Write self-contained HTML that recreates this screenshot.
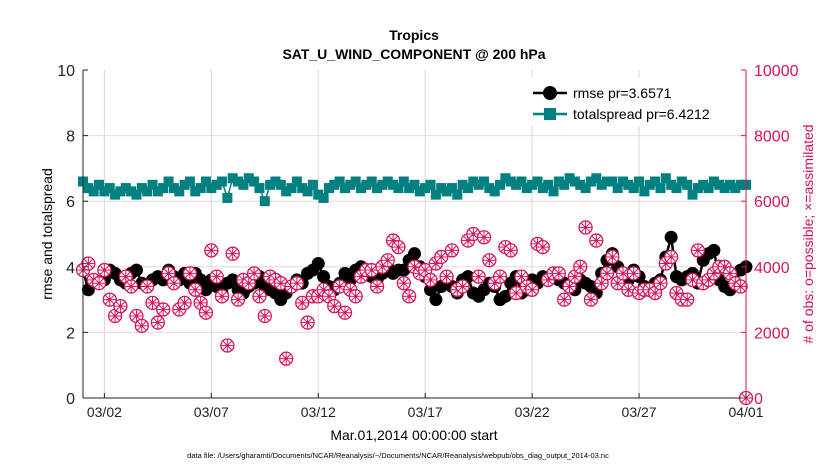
<!DOCTYPE html>
<html><head><meta charset="utf-8"><style>
body{margin:0;background:#fff;}
svg{display:block;font-family:"Liberation Sans",sans-serif;}
</style></head><body>
<svg id="chart" width="830" height="470" viewBox="0 0 830 470">
<rect width="830" height="470" fill="#fff"/>
<g id="grid"></g>
<g id="series"></g>
<g id="axes"></g>
<text x="414" y="40" text-anchor="middle" font-size="14" font-weight="bold">Tropics</text>
<text x="414" y="59" text-anchor="middle" font-size="14" font-weight="bold">SAT_U_WIND_COMPONENT @ 200 hPa</text>
<text x="414" y="440" text-anchor="middle" font-size="14">Mar.01,2014 00:00:00 start</text>
<text transform="translate(52,234) rotate(-90)" text-anchor="middle" font-size="14">rmse and totalspread</text>
<text transform="translate(813,234) rotate(-90)" text-anchor="middle" font-size="14" fill="#d0105a"># of obs: o=possible; ×=assimilated</text>
<text x="398" y="458" text-anchor="middle" font-size="7.5">data file: /Users/gharamti/Documents/NCAR/Reanalysis/~/Documents/NCAR/Reanalysis/webpub/obs_diag_output_2014-03.nc</text>
<g>
<rect x="527" y="78" width="214" height="48" fill="#fff" stroke="none"/>
<g>
<line x1="533" y1="93" x2="567" y2="93" stroke="#000" stroke-width="2.5"/>
<circle cx="550" cy="93" r="7" fill="#000"/>
<text x="573" y="98" font-size="14">rmse pr=3.6571</text></g>
<g>
<line x1="533" y1="114" x2="567" y2="114" stroke="#008080" stroke-width="2.5"/>
<rect x="544" y="108" width="12" height="12" fill="#008080"/>
<text x="573" y="119" font-size="14">totalspread pr=6.4212</text></g>
</g>
</svg>
<script>
const rmse=[3.9,3.3,3.6,3.5, 3.6,3.9,3.8,3.6, 3.5,3.8,3.9,3.5, 3.4,3.6,3.7,3.6, 3.9,3.7,3.6,3.8, 3.5,3.8,3.6,3.3,
3.6,3.4,3.2,3.5, 3.6,3.3,3.2,3.4, 3.5,3.7,3.4,3.3, 3.2,3.0,3.2,3.4, 3.6,3.5,3.8,3.9, 4.1,3.7,3.4,3.3,
3.5,3.8,3.6,3.9, 4.0,3.9,3.7,3.6, 3.8,4.0,3.8,3.9, 3.9,4.2,4.4,4.0, 3.7,3.3,3.0,3.4, 3.6,3.4,3.2,3.6,
3.7,3.2,3.1,3.3, 3.5,3.4,3.0,3.1, 3.5,3.7,3.2,3.3, 3.6,3.5,3.7,3.6, 3.8,3.6,3.5,3.4, 3.3,3.6,3.5,3.4,
3.2,3.8,4.2,4.4, 4.0,3.8,3.6,3.9, 3.7,3.4,3.3,3.5, 3.6,4.3,4.9,3.7, 3.6,3.7,3.8,3.5, 4.2,4.4,4.5,3.6,
3.4,3.3,3.5,3.9,4.0];
const spread=[6.6,6.4,6.3,6.5, 6.3,6.4,6.2,6.3, 6.4,6.3,6.2,6.4, 6.3,6.5,6.3,6.4, 6.6,6.4,6.3,6.5, 6.6,6.3,6.4,6.6,
6.4,6.5,6.6,6.1, 6.7,6.6,6.5,6.7, 6.6,6.4,6.0,6.5, 6.6,6.5,6.3,6.4, 6.6,6.4,6.3,6.5, 6.2,6.1,6.4,6.5,
6.6,6.4,6.5,6.6, 6.4,6.5,6.6,6.4, 6.5,6.6,6.5,6.4, 6.6,6.4,6.5,6.3, 6.4,6.5,6.2,6.4, 6.3,6.4,6.2,6.5,
6.4,6.6,6.5,6.6, 6.4,6.3,6.5,6.7, 6.6,6.5,6.6,6.4, 6.5,6.6,6.4,6.5, 6.3,6.6,6.5,6.7, 6.6,6.5,6.4,6.6,
6.7,6.5,6.6,6.6, 6.4,6.6,6.5,6.4, 6.6,6.3,6.5,6.6, 6.4,6.7,6.5,6.4, 6.6,6.5,6.2,6.4, 6.5,6.4,6.6,6.5,
6.4,6.5,6.4,6.5,6.5];
const obs=[3900,4100,3600,3500, 3900,3000,2500,2800, 3700,3400,2500,2200, 3400,2900,2300,2700, 3800,3500,2700,2900, 3800,3300,2900,2600,
4500,3700,3100,1600, 4400,3000,3600,3500, 3800,3100,2500,3700, 3600,3500,1200,3400, 3500,2900,2300,3100, 3100,3300,3100,2800,
3400,2600,3300,3100, 3700,3900,3900,3400, 4000,4200,4800,4600, 3500,3100,4000,3800, 3900,3600,4100,4300, 3700,4500,3300,3400,
4800,5000,3700,4900, 4200,3500,3700,4600, 4500,3200,3700,3400, 3300,4700,4600,3600, 3800,3800,3000,3400, 3700,4000,5200,3000,
4800,3500,3800,4300, 3500,3800,3300,3800, 3200,3300,3300,3200, 3500,4100,4300,3200, 3000,3000,3600,4500, 3500,3600,3800,4000,
4000,3800,3500,3400,0];
const dayTicks=[2,7,12,17,22,27,32];
const dayLabels=["03/02","03/07","03/12","03/17","03/22","03/27","04/01"];
const yTicks=[0,2,4,6,8,10];
const y2Ticks=[0,2000,4000,6000,8000,10000];

const X0=83,X1=746,Y0=398,Y1=70,NS='http://www.w3.org/2000/svg';
const xs=d=>X0+(d-1)/31*(X1-X0);
const ys=v=>Y0-v/10*(Y0-Y1);
const ys2=v=>Y0-v/10000*(Y0-Y1);
const xi=i=>xs(1+i*0.25);
function mk(tag,attrs,parent){const e=document.createElementNS(NS,tag);for(const k in attrs)e.setAttribute(k,attrs[k]);parent.appendChild(e);return e;}
const grid=document.getElementById('grid'),ser=document.getElementById('series'),ax=document.getElementById('axes');
yTicks.forEach(t=>{if(t>0&&t<10){const l=mk('line',{x1:X0,x2:X1,y1:ys(t),y2:ys(t),stroke:'#ecd6e0','stroke-width':1},grid);

}});
dayTicks.forEach(d=>{if(d<32){const l=mk('line',{x1:xs(d),x2:xs(d),y1:Y1,y2:Y0,stroke:'#d8d8d8','stroke-width':1},grid);

}});
let p=spread.map((v,i)=>xi(i)+','+ys(v)).join(' ');
const sl=mk('polyline',{points:p,fill:'none',stroke:'#008080','stroke-width':1.5},ser);


spread.forEach((v,i)=>{const r=mk('rect',{x:xi(i)-5,y:ys(v)-5,width:10,height:10,fill:'#008080'},ser);

});
p=rmse.map((v,i)=>xi(i)+','+ys(v)).join(' ');
const rl=mk('polyline',{points:p,fill:'none',stroke:'#000','stroke-width':2.5},ser);


rmse.forEach((v,i)=>{const c=mk('circle',{cx:xi(i),cy:ys(v),r:6.5,fill:'#000'},ser);

});
obs.forEach((v,i)=>{const g=mk('g',{},ser);


const cx=xi(i),cy=ys2(v);
mk('circle',{cx:cx,cy:cy,r:6.5,fill:'#fff',stroke:'#d8145c','stroke-width':1.3},g);
for(let a=0;a<4;a++){const an=a*Math.PI/4;mk('line',{x1:cx-6*Math.cos(an),y1:cy-6*Math.sin(an),x2:cx+6*Math.cos(an),y2:cy+6*Math.sin(an),stroke:'#d8145c','stroke-width':1},g);}
mk('circle',{cx:cx,cy:cy,r:1.5,fill:'#d8145c'},g);});
mk('line',{x1:X0,x2:X0,y1:Y1,y2:Y0,stroke:'#222','stroke-width':1},ax);
mk('line',{x1:X0,x2:X1,y1:Y0,y2:Y0,stroke:'#222','stroke-width':1},ax);
mk('line',{x1:X1,x2:X1,y1:Y1,y2:Y0,stroke:'#d8145c','stroke-width':1},ax);
yTicks.forEach(t=>{mk('line',{x1:X0,x2:X0+5,y1:ys(t),y2:ys(t),stroke:'#222'},ax);
const tx=mk('text',{x:X0-8,y:ys(t)+6,'text-anchor':'end','font-size':16,fill:'#222'},ax);tx.textContent=t;

});
y2Ticks.forEach(t=>{mk('line',{x1:X1-5,x2:X1,y1:ys2(t),y2:ys2(t),stroke:'#d8145c'},ax);
const tx=mk('text',{x:X1+8,y:ys2(t)+6,'font-size':16,fill:'#d8145c'},ax);tx.textContent=t;

});
dayTicks.forEach((d,i)=>{mk('line',{x1:xs(d),x2:xs(d),y1:Y0,y2:Y0-5,stroke:'#222'},ax);
const tx=mk('text',{x:xs(d),y:Y0+19,'text-anchor':'middle','font-size':14,fill:'#222'},ax);tx.textContent=dayLabels[i];

});
</script>
</body></html>
